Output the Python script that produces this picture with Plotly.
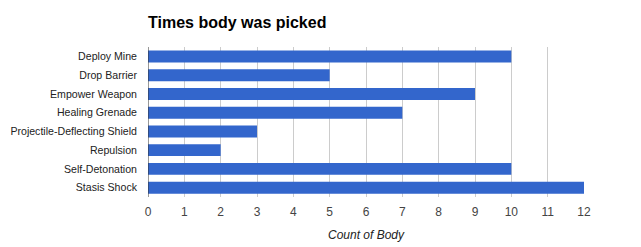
import plotly.graph_objects as go

categories = ["Deploy Mine", "Drop Barrier", "Empower Weapon", "Healing Grenade",
              "Projectile-Deflecting Shield", "Repulsion", "Self-Detonation", "Stasis Shock"]
counts = [10, 5, 9, 7, 3, 2, 10, 12]
tick_vals = list(range(0, 13))

fig = go.Figure(go.Bar(
    x=counts, y=categories, orientation="h",
    marker=dict(color="#3366cc", line=dict(width=0)),
))

fig.update_layout(
    width=641, height=247,
    margin=dict(l=148, r=57, t=47, b=50),
    paper_bgcolor="white", plot_bgcolor="white",
    font=dict(family="Liberation Sans, Arial, sans-serif", size=11, color="#222222"),
    title=dict(text="<b>Times body was picked</b>", x=148/641, xanchor="left",
               y=1 - 22/247, yanchor="middle",
               font=dict(size=16, color="#000000")),
    bargap=0.36,
    showlegend=False,
    xaxis=dict(
        range=[0, 12], tickvals=tick_vals, ticktext=[str(v) for v in tick_vals],
        showgrid=True, gridcolor="#cccccc", gridwidth=1,
        zeroline=False, showline=False, ticks="",
        tickfont=dict(size=12, color="#444444"),
        ticklabelstandoff=6, automargin=False,
        title=dict(text="<i>Count of Body</i>", font=dict(size=12, color="#222222"), standoff=12),
        fixedrange=True,
    ),
    yaxis=dict(
        autorange="reversed", showgrid=False, zeroline=False,
        showline=False, ticks="", ticklabelstandoff=10, automargin=False,
        tickfont=dict(size=10.6, color="#222222"),
        fixedrange=True,
    ),
    shapes=[dict(type="line", xref="x", yref="paper", x0=0, x1=0, y0=0, y1=1,
                 line=dict(color="#333333", width=1))],
)

fig.write_html("out.html")
